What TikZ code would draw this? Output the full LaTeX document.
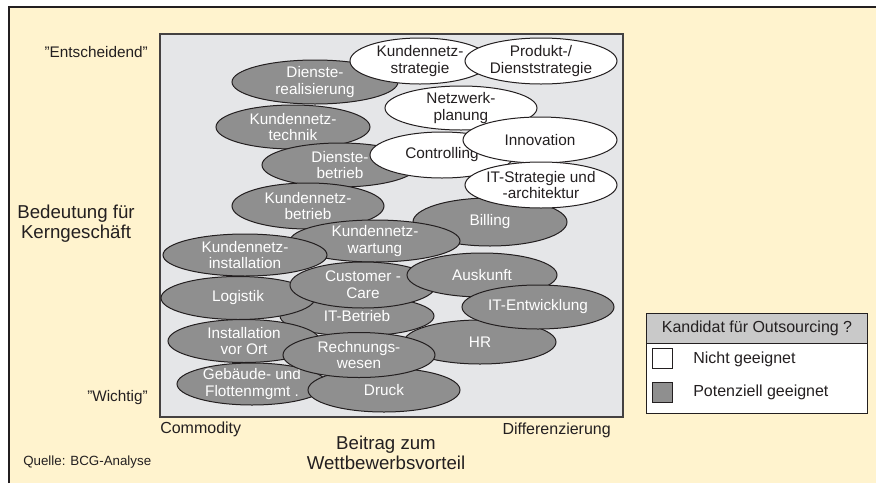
\documentclass[tikz,border=0pt]{standalone}
\usepackage{fontspec}
\setmainfont{Liberation Sans}
\usetikzlibrary{shapes.geometric}
\definecolor{cream}{RGB}{255,243,206}
\definecolor{plotgray}{RGB}{229,230,232}
\definecolor{ellgray}{RGB}{143,143,143}
\definecolor{headgray}{RGB}{201,201,201}
\definecolor{ink}{RGB}{35,31,32}
\begin{document}
\begin{tikzpicture}[x=0.75pt, y=-0.75pt,
        blob/.style n args={3}{ellipse, draw=ink, line width=0.75pt, inner sep=-2pt, align=center,
            minimum width=#1*1.5pt, minimum height=#2*1.5pt, fill=#3, font=\fontsize{11.5}{12.5}\selectfont},
        lbl/.style={inner sep=0pt, align=center, text=ink}]
    \useasboundingbox (0,0) rectangle (876,483);
    \fill[cream] (9,7) rectangle (876,483);
    \draw[ink, line width=1.2pt] (9,483) -- (9,7) -- (876,7);
    \filldraw[fill=plotgray, draw=ink!85, line width=0.9pt] (160,34) rectangle (623,417);
    \foreach \n/\x/\y/\rx/\ry/\t in {dreal/315/82/83/22/{Dienste-\\realisierung},
            ktech/293/127/77/22/{Kundennetz-\\technik}, dbetr/340/165/78/22/{Dienste-\\betrieb},
            kbetr/308/206/76/23/{Kundennetz-\\betrieb}, billing/490/222/77/24/{Billing},
            kwart/375/241/85/21/{Kundennetz-\\wartung}, kinst/245/255/82/21/{Kundennetz-\\installation},
            itbetr/357/316/77/20/{IT-Betrieb}, logistik/238/298/77/21.5/{Logistik},
            ccare/363/285/73/23/{Customer -\\Care}, auskunft/482/275/75/22/{Auskunft},
            hr/480/342/76/22/{HR}, itentw/538/307/76/22/{IT-Entwicklung},
            ivo/244/341/76/21.5/{Installation\\vor Ort}, gebmgmt/252/384/75/21/{Gebäude- und\\Flottenmgmt .},
            druck/384/390/76/22/{Druck}, rewe/359/355/76/22.5/{Rechnungs-\\wesen}}
        \node[blob={\rx}{\ry}{ellgray}, text=white] (\n) at (\x,\y) {\t};
    \foreach \n/\x/\y/\rx/\ry/\t in {kstrat/420/61/70/23/{Kundennetz-\\strategie},
            pstrat/541/61/76/23/{Produkt-/\\Dienststrategie}, nplan/461/108/76/22/{Netzwerk-\\planung},
            contr/442/155/72/23/{Controlling}, innov/540/140/77/23/{Innovation},
            itstrat/541/185/76/23/{IT-Strategie und\\-architektur}}
        \node[blob={\rx}{\ry}{white}, text=ink] (\n) at (\x,\y) {\t};
    \node[lbl, anchor=east, font=\fontsize{11.5}{13}\selectfont] (top) at (148,52) {"Entscheidend"};
    \node[lbl, anchor=east, font=\fontsize{11.5}{13}\selectfont] (bottom) at (148,398) {"Wichtig"};
    \node[lbl, font=\fontsize{14}{15}\selectfont] (yaxis) at (76,224) {Bedeutung für\\Kerngeschäft};
    \node[lbl, anchor=west, font=\fontsize{12}{13}\selectfont] (left) at (160,429) {Commodity};
    \node[lbl, anchor=east, font=\fontsize{12}{13}\selectfont] (right) at (611,430) {Differenzierung};
    \node[lbl, font=\fontsize{14}{15}\selectfont] (xaxis) at (386,453) {Beitrag zum\\Wettbewerbsvorteil};
    \node[lbl, anchor=west, font=\fontsize{10}{11}\selectfont] (source) at (23,462) {Quelle: BCG-Analyse};
    \filldraw[fill=white, draw=ink, line width=0.75pt] (646,313) rectangle (867,413);
    \filldraw[fill=headgray, draw=ink, line width=0.75pt] (646,313) rectangle (867,343);
    \filldraw[fill=white, draw=ink, line width=0.75pt] (652,348) rectangle (672,368);
    \filldraw[fill=ellgray, draw=ink, line width=0.75pt] (652,382) rectangle (672,402);
    \node[lbl, font=\fontsize{12}{13}\selectfont] (legend) at (757,328) {Kandidat für Outsourcing ?};
    \node[lbl, anchor=west, font=\fontsize{12}{13}\selectfont] (nicht) at (693,359) {Nicht geeignet};
    \node[lbl, anchor=west, font=\fontsize{12}{13}\selectfont] (pot) at (693,392) {Potenziell geeignet};
\end{tikzpicture}
\end{document}
